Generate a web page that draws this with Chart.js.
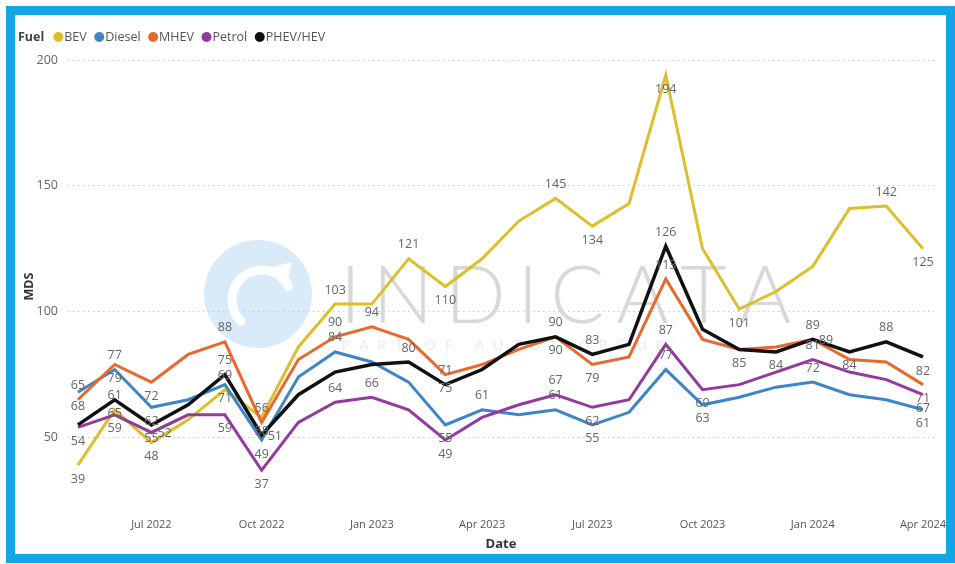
<!DOCTYPE html>
<html><head><meta charset="utf-8">
<script src="https://cdn.jsdelivr.net/npm/chart.js@4"></script>
<style>
html,body{margin:0;padding:0;background:#fff;}
#wrap{position:relative;width:955px;height:564px;overflow:hidden;}
#frame{position:absolute;left:6px;top:6px;width:931px;height:539px;border:9px solid #14A6E4;pointer-events:none;}
canvas{position:absolute;left:0;top:0;}
</style></head><body>
<div id="wrap"><canvas id="c" width="955" height="564"></canvas><div id="frame"></div></div>
<script>
// ---- data ----
const months = ['May 2022','Jun 2022','Jul 2022','Aug 2022','Sep 2022','Oct 2022','Nov 2022','Dec 2022',
  'Jan 2023','Feb 2023','Mar 2023','Apr 2023','May 2023','Jun 2023','Jul 2023','Aug 2023','Sep 2023','Oct 2023','Nov 2023','Dec 2023',
  'Jan 2024','Feb 2024','Mar 2024','Apr 2024'];
const seriesNames = ['BEV','Diesel','MHEV','Petrol','PHEV/HEV'];
const bev    = [39,61,48,57,69,58,86,103,103,121,110,121,136,145,134,143,194,125,101,108,118,141,142,125];
const diesel = [68,77,62,65,71,49,74,84,80,72,55,61,59,61,55,60,77,63,66,70,72,67,65,61];
const mhev   = [65,79,72,83,88,56,81,90,94,89,75,79,85,90,79,82,113,89,85,86,89,81,80,71];
const petrol = [54,59,52,59,59,37,56,64,66,61,49,58,63,67,62,65,87,69,71,76,81,76,73,67];
const phev   = [55,65,55,63,75,51,67,76,79,80,71,77,87,90,83,87,126,93,85,84,89,84,88,82];
const yTicks = [50,100,150,200];
const xTickMonths = ['Jul','Oct','Jan','Apr'];
const legendTitle = 'Fuel';
const xTitle = 'Date';
const yTitle = 'MDS';

// ---- styling / config ----
const FONT = "'Open Sans', sans-serif";
const colors = ['#DDBE2B','#3D85C6','#E8692F','#923A9E','#111111'];
// data-label placement per series: a = above, b = below, r = right, . = none
const labelPlacement = [
  'bab.ab.a.ab..ab.b.b...ab',
  'bab.bb.a..ba.ab.ab..a..b',
  'abb.aa.aa.b..bb.a...r..b',
  'bbr.bb.aa.b..ab.ab..a..b',
  '.bb.ar...aa..aa.a.bbabab'
];
const allSeries = [bev, diesel, mhev, petrol, phev];
const xTickIdx = months.map((m,i)=>xTickMonths.includes(m.slice(0,3)) ? i : -1).filter(i=>i>=0);

const datasets = allSeries.map((arr, k) => ({
  label: seriesNames[k],
  data: arr.map((v,i)=>({x:i, y:v})),
  borderColor: colors[k],
  backgroundColor: colors[k],
  borderWidth: k===4 ? 3.5 : 3,
  pointRadius: 0,
  tension: 0,
  order: 4-k,
  labelPos: labelPlacement[k]
}));

const watermark = {
  id:'watermark',
  beforeDatasetsDraw(chart){
    const ctx = chart.ctx; ctx.save();
    // logo circle
    ctx.fillStyle = 'rgba(170,210,240,0.45)';
    ctx.beginPath(); ctx.arc(258,294,54,0,Math.PI*2); ctx.fill();
    ctx.strokeStyle = 'rgba(255,255,255,0.95)'; ctx.lineWidth = 9; ctx.lineCap='round';
    ctx.beginPath(); ctx.arc(262,300,30,Math.PI*0.75,Math.PI*1.85); ctx.stroke();
    ctx.fillStyle = 'rgba(255,255,255,0.95)';
    ctx.beginPath(); ctx.moveTo(292,262); ctx.lineTo(268,268); ctx.lineTo(286,288); ctx.closePath(); ctx.fill();
    // INDICATA
    ctx.fillStyle = '#d8d8d8';
    ctx.textBaseline = 'alphabetic';
    ctx.font = '300 80px Lato, ' + FONT;
    const word = 'INDICATA';
    let w0 = ctx.measureText(word).width;
    const sp = (440 - w0) / (word.length - 1);
    let x = 340;
    for (const ch of word) { ctx.fillText(ch, x, 323); x += ctx.measureText(ch).width + sp; }
    ctx.fillStyle = '#dcdcdc';
    ctx.font = '300 14px Lato, ' + FONT;
    const sub = 'PART OF AUTO1 GROUP';
    w0 = ctx.measureText(sub).width;
    const sp2 = (320 - w0) / (sub.length - 1);
    x = 342;
    for (const ch of sub) { ctx.fillText(ch, x, 350); x += ctx.measureText(ch).width + sp2; }
    ctx.restore();
  }
};

const dataLabels = {
  id:'dataLabels',
  afterDatasetsDraw(chart){
    const ctx = chart.ctx; ctx.save();
    ctx.font = '12.5px ' + FONT; ctx.fillStyle = '#666'; ctx.textBaseline = 'middle';
    chart.data.datasets.forEach((ds, di) => {
      const meta = chart.getDatasetMeta(di);
      meta.data.forEach((pt, i) => {
        const p = ds.labelPos[i];
        if (!p || p === '.') return;
        const txt = String(ds.data[i].y);
        if (p === 'a') { ctx.textAlign='center'; ctx.fillText(txt, pt.x, pt.y - 14); }
        else if (p === 'b') { ctx.textAlign='center'; ctx.fillText(txt, pt.x, pt.y + 14); }
        else { ctx.textAlign='left'; ctx.fillText(txt, pt.x + 6, pt.y + 1); }
      });
    });
    ctx.restore();
  }
};

const fuelLegend = {
  id:'fuelLegend',
  afterDraw(chart){
    const ctx = chart.ctx; ctx.save();
    const y = 37;
    ctx.textBaseline = 'middle'; ctx.textAlign = 'left';
    ctx.font = 'bold 12.5px ' + FONT; ctx.fillStyle = '#444';
    ctx.fillText(legendTitle, 18, y);
    let x = 18 + ctx.measureText(legendTitle).width + 9;
    ctx.font = '12.5px ' + FONT;
    chart.data.datasets.forEach(ds => {
      ctx.fillStyle = ds.borderColor;
      ctx.beginPath(); ctx.arc(x + 5, y, 5, 0, Math.PI*2); ctx.fill();
      ctx.fillStyle = '#555';
      ctx.fillText(ds.label, x + 11, y);
      x += 11 + ctx.measureText(ds.label).width + 7.5;
    });
    ctx.restore();
  }
};

new Chart(document.getElementById('c'), {
  type: 'line',
  data: { datasets },
  plugins: [watermark, dataLabels, fuelLegend],
  options: {
    responsive: false,
    animation: false,
    devicePixelRatio: 1,
    layout: { padding: { left: 15, top: 60, right: 21, bottom: 11 } },
    plugins: { legend: { display: false }, tooltip: { enabled: false } },
    scales: {
      x: {
        type: 'linear', min: -0.27, max: 23.3,
        afterBuildTicks: (ax) => { ax.ticks = xTickIdx.map(v => ({ value: v })); },
        afterFit: (ax) => { ax.height = 40; },
        grid: { display: false, drawTicks: false, tickLength: 0 }, border: { display: false },
        ticks: { autoSkip: false, maxRotation: 0, padding: 5, color: '#555', font: { family: FONT, size: 11 },
          callback: (v) => months[v] },
        title: { display: true, text: xTitle, color: '#333', font: { family: FONT, size: 13, weight: 'bold' }, padding: { top: 0, bottom: 1 } }
      },
      y: {
        min: 20, max: 200,
        afterBuildTicks: (ax) => { ax.ticks = yTicks.map(v => ({ value: v })); },
        afterFit: (ax) => { ax.width = 53; },
        grid: { color: '#c9c9c9', lineWidth: 1, drawTicks: false, borderDash: [1.5, 3.5] },
        border: { display: false, dash: [1.5, 3.5] },
        ticks: { padding: 10, color: '#666', font: { family: FONT, size: 12.5 } },
        title: { display: true, text: yTitle, color: '#333', font: { family: FONT, size: 12.5, weight: 'bold' }, padding: { top: 7, bottom: 0 } }
      }
    }
  }
});
</script>
</body></html>
